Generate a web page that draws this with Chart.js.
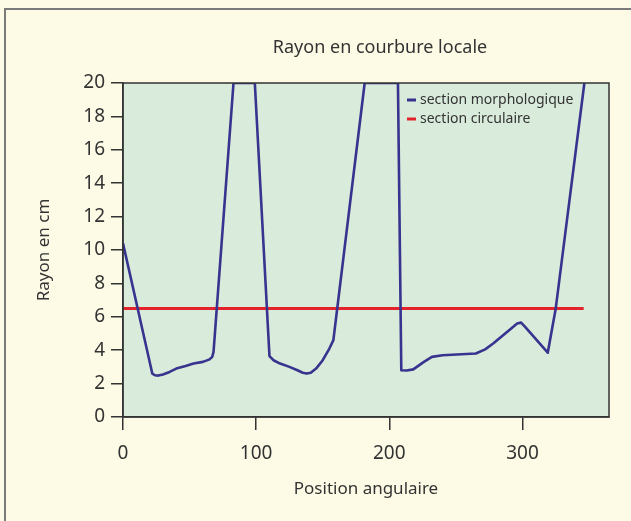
<!DOCTYPE html>
<html>
<head>
<meta charset="utf-8">
<script src="https://cdn.jsdelivr.net/npm/chart.js@4/dist/chart.umd.min.js"></script>
<style>
  html, body { margin: 0; padding: 0; background: #fdfbe6; }
  #wrap { width: 631px; height: 521px; position: relative; }
</style>
</head>
<body>
<div id="wrap"><canvas id="rayonChart"></canvas></div>
<script>
// data
const morphoX = [0, 22, 24, 26.5, 30, 35, 40, 47, 53, 60, 65, 67, 68, 83, 99, 110, 113, 118, 125, 131, 135, 138, 141, 145, 150, 155, 158, 181.5, 206.5, 209, 213, 218, 226, 232, 240, 265, 272, 278, 290, 296, 299, 302, 319, 325, 346.5];
const morphoY = [10.4, 2.6, 2.5, 2.48, 2.55, 2.7, 2.9, 3.05, 3.2, 3.3, 3.45, 3.6, 3.9, 20, 20, 3.65, 3.4, 3.2, 3.0, 2.8, 2.65, 2.6, 2.65, 2.9, 3.4, 4.1, 4.6, 20, 20, 2.8, 2.78, 2.85, 3.3, 3.6, 3.7, 3.8, 4.05, 4.4, 5.2, 5.6, 5.65, 5.4, 3.85, 6.5, 20];
const circX = [0, 346];
const circY = [6.5, 6.5];
const xTickValues = [0, 100, 200, 300];
const seriesNames = ['section morphologique', 'section circulaire'];
const seriesColors = ['#37338f', '#e2232b'];

const toPoints = (xs, ys) => xs.map((x, i) => ({ x: x, y: ys[i] }));

const FONT = '"Noto Sans", sans-serif';
const INK = '#333333';

//paints cream page, outer frame and green plot area
const backdrop = {
    id: 'backdrop',
    afterLayout(chart) {
        //title sits a bit right of the plot centre in the original
        if (chart.titleBlock) {
            chart.titleBlock.left += 14;
            chart.titleBlock.right += 14;
        }
    },
    beforeDraw(chart) {
        const ctx = chart.ctx;
        const a = chart.chartArea;
        ctx.save();
        ctx.fillStyle = '#fdfbe6';
        ctx.fillRect(0, 0, chart.width, chart.height);
        ctx.strokeStyle = '#7a7a7a';
        ctx.lineWidth = 2;
        ctx.strokeRect(5, 9, chart.width + 20, chart.height + 20);
        ctx.fillStyle = '#d9ebdb';
        ctx.fillRect(a.left, a.top, a.right - a.left, a.bottom - a.top);
        ctx.restore();
    },
    afterDatasetsDraw(chart) {
        const ctx = chart.ctx;
        const a = chart.chartArea;
        ctx.save();
        ctx.strokeStyle = INK;
        ctx.lineWidth = 1.5;
        ctx.strokeRect(a.left, a.top, a.right - a.left, a.bottom - a.top);
        ctx.restore();
    },
    afterDraw(chart) {
        //legend inside plot, top right
        const ctx = chart.ctx;
        ctx.save();
        ctx.font = '14px ' + FONT;
        ctx.textBaseline = 'middle';
        chart.data.datasets.forEach((ds, i) => {
            const y = 100 + i * 19;
            ctx.strokeStyle = ds.borderColor;
            ctx.lineWidth = 3;
            ctx.beginPath();
            ctx.moveTo(407, y);
            ctx.lineTo(416, y);
            ctx.stroke();
            ctx.fillStyle = INK;
            ctx.fillText(ds.label, 420, y);
        });
        ctx.restore();
    }
};

new Chart(document.getElementById('rayonChart'), {
    type: 'line',
    data: {
        datasets: [
            {
                label: seriesNames[0],
                data: toPoints(morphoX, morphoY),
                borderColor: seriesColors[0],
                borderWidth: 2.6,
                borderJoinStyle: 'round',
                pointRadius: 0,
                tension: 0,
                fill: false
            },
            {
                label: seriesNames[1],
                data: toPoints(circX, circY),
                borderColor: seriesColors[1],
                borderWidth: 3,
                pointRadius: 0,
                fill: false
            }
        ]
    },
    options: {
        responsive: true,
        maintainAspectRatio: false,
        animation: false,
        layout: { padding: { left: 0, right: 22, top: 0, bottom: 0 } },
        plugins: {
            legend: { display: false },
            tooltip: { enabled: false },
            title: {
                display: true,
                fullSize: false,
                text: 'Rayon en courbure locale',
                color: INK,
                font: { family: FONT, size: 18, weight: 'normal' },
                padding: { top: 37, bottom: 24.4 }
            }
        },
        scales: {
            x: {
                type: 'linear',
                min: 0,
                max: 365,
                afterFit(scale) { scale.height = 104; },
                afterBuildTicks(scale) { scale.ticks = xTickValues.map(v => ({ value: v })); },
                ticks: {
                    color: INK,
                    padding: 12,
                    maxRotation: 0,
                    font: { family: FONT, size: 19 }
                },
                grid: { drawOnChartArea: false, tickLength: 13, color: INK, lineWidth: 1.5 },
                border: { color: INK, width: 1.5 },
                title: {
                    display: true,
                    text: 'Position angulaire',
                    color: INK,
                    font: { family: FONT, size: 17 },
                    padding: { top: 0, bottom: 22 }
                }
            },
            y: {
                min: 0,
                max: 20,
                afterFit(scale) { scale.width = 123; },
                ticks: {
                    stepSize: 2,
                    color: INK,
                    padding: 6,
                    font: { family: FONT, size: 19 }
                },
                grid: { drawOnChartArea: false, tickLength: 12, color: INK, lineWidth: 1.5 },
                border: { color: INK, width: 1.5 },
                title: {
                    display: true,
                    text: 'Rayon en cm',
                    color: INK,
                    font: { family: FONT, size: 17 },
                    padding: { top: 34, bottom: 0 }
                }
            }
        }
    },
    plugins: [backdrop]
});
</script>
</body>
</html>
